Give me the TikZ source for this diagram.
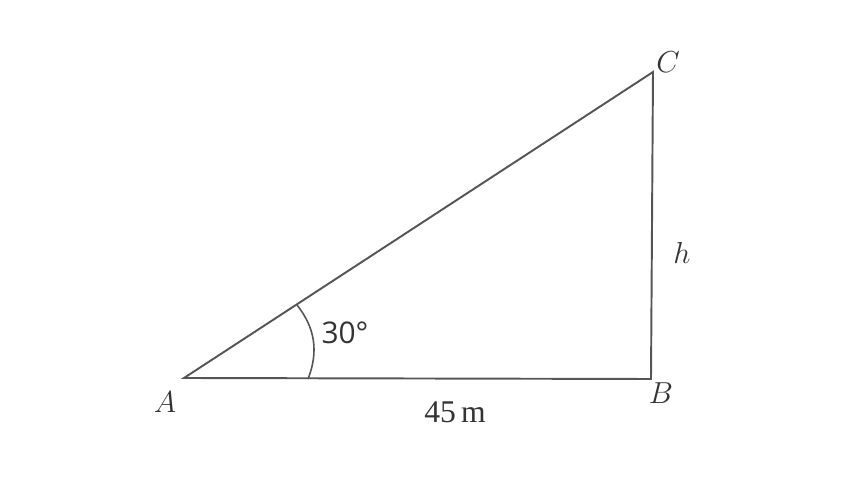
\documentclass[tikz,border=0pt]{standalone}
\usepackage{fontspec}
\setmainfont{Liberation Serif}
\newfontfamily\labelsans{Open Sans}
\usepackage{tikz}
\definecolor{EdgeGray}{HTML}{555555}
\definecolor{TextGray}{HTML}{333333}

\begin{document}
\begin{tikzpicture}[x=0.02cm,y=0.02cm,
    side/.style={draw=EdgeGray,line width=1.1pt},
    vertexlabel/.style={text=TextGray,font=\fontsize{17}{19}\selectfont,inner sep=0pt},
    measure/.style={text=TextGray,font=\fontsize{18}{20}\selectfont,inner sep=0pt}]
  \useasboundingbox (0,0) rectangle (853,480);

  % Vertices of the triangle
  \coordinate (A) at (184,102);
  \coordinate (B) at (651,101);
  \coordinate (C) at (653,408);

  % Sides
  \draw[side,line join=miter] (A) -- (B) -- (C) -- cycle;

  % Angle mark at A
  \coordinate (arcbase) at (308,101);
  \coordinate (arctop) at (297,175);
  \draw[draw=EdgeGray,line width=0.9pt] (arcbase) to[bend right=30] (arctop);

  % Labels
  \node[vertexlabel] (labA) at (165,78) {$A$};
  \node[vertexlabel] (labB) at (661,87) {$B$};
  \node[vertexlabel] (labC) at (668,418) {$C$};
  \node[vertexlabel] (labh) at (682,227) {$h$};
  \node[measure,font=\labelsans\fontsize{17}{19}\selectfont] (angle) at (345,147) {30°};
  \node[measure] (base) at (455,68) {45\,m};
\end{tikzpicture}
\end{document}
